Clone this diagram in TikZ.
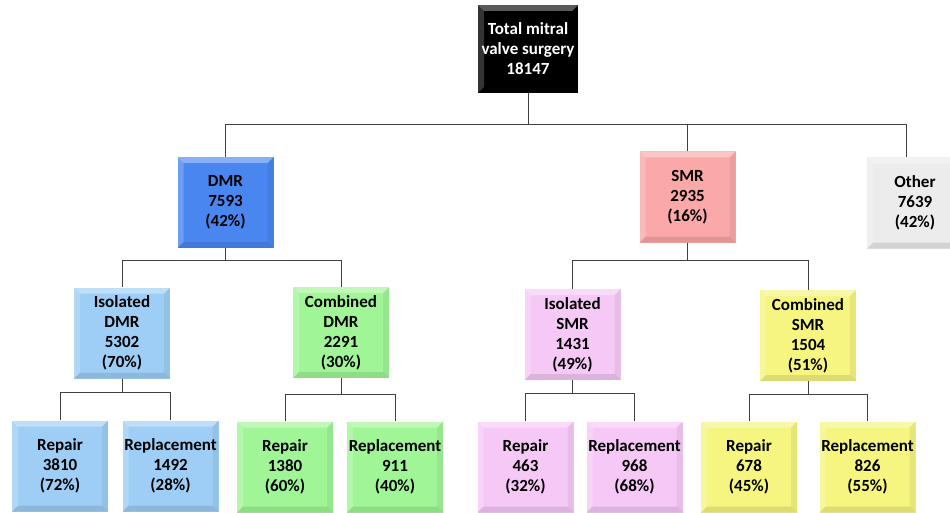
\documentclass[tikz,border=0pt]{standalone}
\usepackage{fontspec}
\setmainfont{Carlito}
\usepackage{tikz}
\usetikzlibrary{positioning}
\definecolor{linegray}{RGB}{64,64,64}
\definecolor{dmrblue}{RGB}{74,134,240}
\definecolor{smrpink}{RGB}{250,168,168}
\definecolor{othergray}{RGB}{236,236,236}
\definecolor{isoblue}{RGB}{158,206,245}
\definecolor{comgreen}{RGB}{160,245,150}
\definecolor{isopink}{RGB}{246,200,246}
\definecolor{comyellow}{RGB}{245,245,128}

\tikzset{
  box/.style={minimum width=96pt,minimum height=91pt,inner sep=0pt,align=center,
    font={\fontsize{17}{20}\selectfont\bfseries},
    path picture={
      \fill[white,opacity=0.35] (path picture bounding box.north west) -- (path picture bounding box.north east)
        -- ([xshift=-6pt,yshift=-6pt]path picture bounding box.north east) -- ([xshift=6pt,yshift=-6pt]path picture bounding box.north west) -- cycle;
      \fill[white,opacity=0.2] (path picture bounding box.north west) -- ([xshift=6pt,yshift=-6pt]path picture bounding box.north west)
        -- ([xshift=6pt,yshift=6pt]path picture bounding box.south west) -- (path picture bounding box.south west) -- cycle;
      \fill[black,opacity=0.1] (path picture bounding box.south west) -- (path picture bounding box.south east)
        -- ([xshift=-6pt,yshift=6pt]path picture bounding box.south east) -- ([xshift=6pt,yshift=6pt]path picture bounding box.south west) -- cycle;
      \fill[black,opacity=0.06] (path picture bounding box.north east) -- ([xshift=-6pt,yshift=-6pt]path picture bounding box.north east)
        -- ([xshift=-6pt,yshift=6pt]path picture bounding box.south east) -- (path picture bounding box.south east) -- cycle;
    }},
  link/.style={draw=linegray,line width=1pt}
}

\begin{document}
\begin{tikzpicture}[x=1pt,y=-1pt]
  \useasboundingbox (0,0) rectangle (950,513);

  % top level
  \node[box,fill=black,text=white,minimum width=100pt,minimum height=88pt] (root) at (528,49) {Total mitral\\valve surgery\\18147};

  % first split
  \node[box,fill=dmrblue] (dmr) at (225.5,202.5) {DMR\\7593\\(42\%)};
  \node[box,fill=smrpink] (smr) at (687.5,197) {SMR\\2935\\(16\%)};
  \node[box,fill=othergray] (other) at (915,203) {Other\\7639\\(42\%)};

  % isolated / combined
  \node[box,fill=isoblue] (isodmr) at (122,333) {Isolated\\DMR\\5302\\(70\%)};
  \node[box,fill=comgreen] (comdmr) at (341,332.5) {Combined\\DMR\\2291\\(30\%)};
  \node[box,fill=isopink] (isosmr) at (572.5,334.5) {Isolated\\SMR\\1431\\(49\%)};
  \node[box,fill=comyellow] (comsmr) at (808,335.5) {Combined\\SMR\\1504\\(51\%)};

  % repair / replacement
  \node[box,fill=isoblue] (repa) at (60,466) {Repair\\3810\\(72\%)};
  \node[box,fill=isoblue] (repla) at (170.5,466) {Replacement\\1492\\(28\%)};
  \node[box,fill=comgreen] (repb) at (285,467) {Repair\\1380\\(60\%)};
  \node[box,fill=comgreen] (replb) at (395,467) {Replacement\\911\\(40\%)};
  \node[box,fill=isopink] (repc) at (525.5,467) {Repair\\463\\(32\%)};
  \node[box,fill=isopink] (replc) at (634.5,467) {Replacement\\968\\(68\%)};
  \node[box,fill=comyellow] (repd) at (749,467) {Repair\\678\\(45\%)};
  \node[box,fill=comyellow] (repld) at (867.5,467) {Replacement\\826\\(55\%)};

  % connectors
  \draw[link] (root.south) -- (root.south |- 0,125) -| (dmr.north);
  \draw[link] (root.south) -- (root.south |- 0,125) -| (smr.north);
  \draw[link] (root.south) -- (root.south |- 0,125) -| ([xshift=-9pt]other.north);

  \draw[link] (dmr.south) -- (dmr.south |- 0,260) -| (isodmr.north);
  \draw[link] (dmr.south) -- (dmr.south |- 0,260) -| (comdmr.north);
  \draw[link] (smr.south) -- (smr.south |- 0,260) -| (isosmr.north);
  \draw[link] (smr.south) -- (smr.south |- 0,260) -| (comsmr.north);

  \draw[link] (isodmr.south) -- (isodmr.south |- 0,392) -| (repa.north);
  \draw[link] (isodmr.south) -- (isodmr.south |- 0,392) -| (repla.north);
  \draw[link] (comdmr.south) -- (comdmr.south |- 0,394) -| (repb.north);
  \draw[link] (comdmr.south) -- (comdmr.south |- 0,394) -| (replb.north);
  \draw[link] (isosmr.south) -- (isosmr.south |- 0,393) -| (repc.north);
  \draw[link] (isosmr.south) -- (isosmr.south |- 0,393) -| (replc.north);
  \draw[link] (comsmr.south) -- (comsmr.south |- 0,394) -| (repd.north);
  \draw[link] (comsmr.south) -- (comsmr.south |- 0,394) -| (repld.north);
\end{tikzpicture}
\end{document}
